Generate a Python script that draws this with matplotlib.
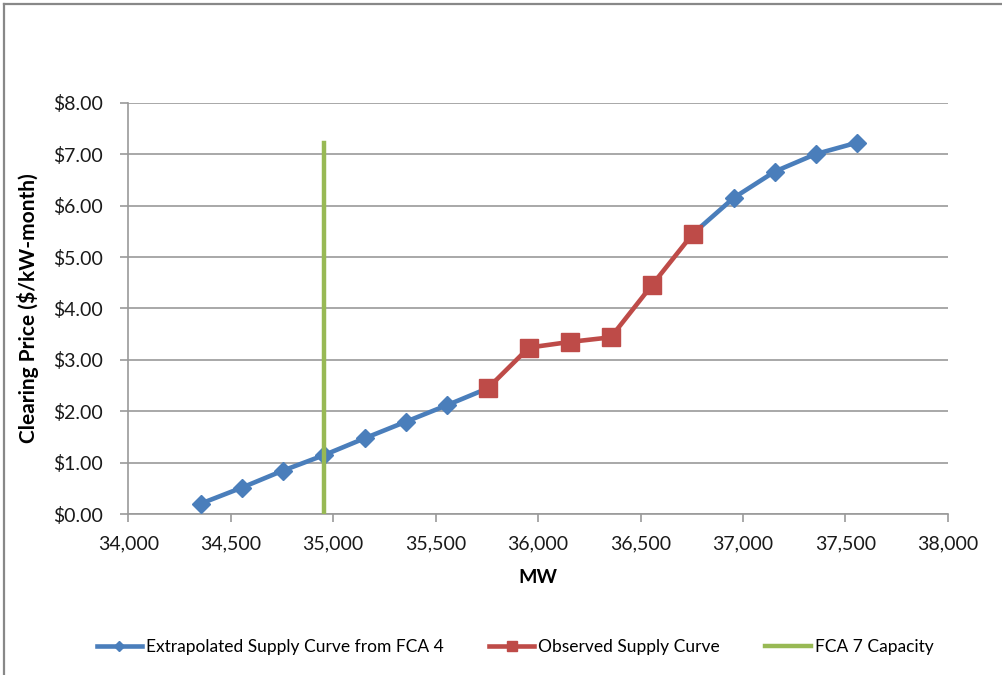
import matplotlib
matplotlib.use("Agg")
import matplotlib.pyplot as plt
from matplotlib.lines import Line2D
from matplotlib.ticker import FuncFormatter, MultipleLocator

# extrapolated curve (FCA 4), split around the observed part
extrap_mw_low = [34355, 34555, 34755, 34955, 35155, 35355, 35555, 35755]
extrap_price_low = [0.21, 0.52, 0.85, 1.15, 1.48, 1.80, 2.12, 2.45]
extrap_mw_high = [36755, 36955, 37155, 37355, 37555]
extrap_price_high = [5.45, 6.15, 6.66, 7.00, 7.22]

# observed supply curve
obs_mw = [35755, 35955, 36155, 36355, 36555, 36755]
obs_price = [2.45, 3.24, 3.35, 3.44, 4.45, 5.45]

# FCA 7 capacity
fca7_mw = [34955, 34955]
fca7_price = [0.0, 7.22]

blue = '#4A7EBB'
red = '#BE4B48'
green = '#98B954'
grid_c = '#9A9A9A'

plt.rcParams['font.family'] = ['Lato', 'DejaVu Sans']

fig = plt.figure(figsize=(10.02, 6.75), dpi=100)
ax = fig.add_axes([0.128, 0.238, 0.818, 0.610])

ax.plot(extrap_mw_low, extrap_price_low, color=blue, lw=3.3, marker='D',
        ms=9.5, zorder=3, label='Extrapolated Supply Curve from FCA 4')
ax.plot(extrap_mw_high, extrap_price_high, color=blue, lw=3.3, marker='D',
        ms=9.5, zorder=3)
ax.plot(obs_mw, obs_price, color=red, lw=3.3, marker='s', ms=13,
        zorder=4, label='Observed Supply Curve')
ax.plot(fca7_mw, fca7_price, color=green, lw=3.2, zorder=5,
        label='FCA 7 Capacity')

ax.set_xlim(34000, 38000)
ax.set_ylim(0, 8)
ax.xaxis.set_major_locator(MultipleLocator(500))
ax.yaxis.set_major_locator(MultipleLocator(1))
ax.xaxis.set_major_formatter(FuncFormatter(lambda v, p: f'{int(v):,}'))
ax.yaxis.set_major_formatter(FuncFormatter(lambda v, p: f'${v:.2f}'))

ax.grid(axis='y', color=grid_c, lw=1.2)
ax.set_axisbelow(True)
for s in ['top', 'right']:
    ax.spines[s].set_visible(False)
for s in ['left', 'bottom']:
    ax.spines[s].set_color(grid_c)
    ax.spines[s].set_linewidth(1.2)
ax.tick_params(axis='both', colors=grid_c, length=6, width=1.2,
               labelcolor='#1a1a1a', labelsize=14)
ax.tick_params(axis='y', pad=12)
ax.tick_params(axis='x', pad=9)

ax.set_xlabel('MW', fontsize=14, fontweight='bold', labelpad=12)
ax.set_ylabel('Clearing Price ($/kW-month)', fontsize=15, fontweight='bold',
              labelpad=10)

ax.legend(loc='upper center', bbox_to_anchor=(0.472, -0.265), ncol=3,
          frameon=False, fontsize=12.5, markerscale=0.5, handlelength=2.6,
          handletextpad=0.25, columnspacing=2.6)

# outer chart frame
fig.add_artist(Line2D([0.004, 1.0], [0.994, 0.994], color='#888888', lw=1.6))
fig.add_artist(Line2D([0.004, 0.004], [0.0, 0.994], color='#888888', lw=1.6))

fig.savefig('out.png', dpi=100)
